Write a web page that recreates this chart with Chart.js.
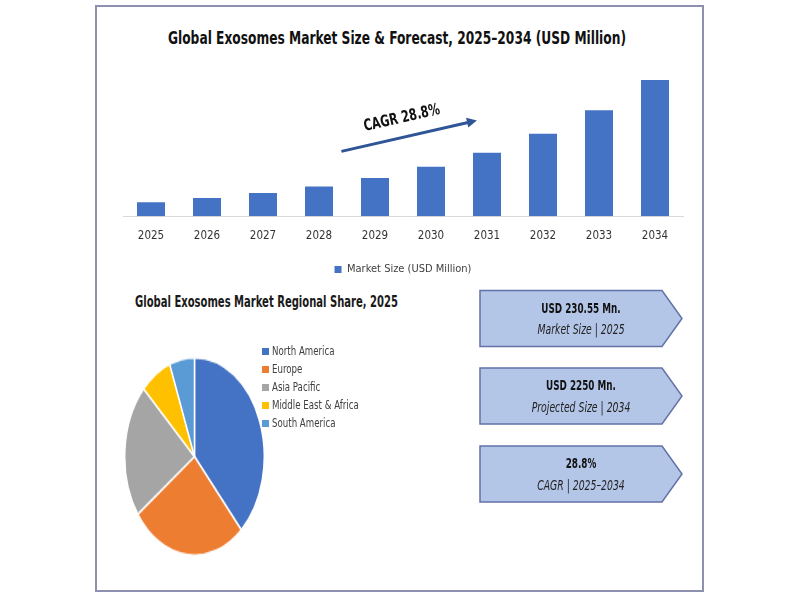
<!DOCTYPE html>
<html><head><meta charset="utf-8">
<script src="https://cdn.jsdelivr.net/npm/chart.js@4.4.1/dist/chart.umd.min.js"></script>
<style>
html,body{margin:0;padding:0;background:#fff;width:800px;height:600px;overflow:hidden;font-family:'Liberation Sans Narrow','DejaVu Sans Condensed',sans-serif;}
#frame{position:absolute;left:95px;top:5px;width:605px;height:583px;border:2px solid #8e90b0;}
#barWrap{position:absolute;left:97px;top:10px;width:606px;height:275px;}
#mainTitle{position:absolute;left:168px;top:27px;font-weight:bold;font-size:18px;line-height:22px;color:#111;white-space:nowrap;transform-origin:0 50%;}
#pieWrap{position:absolute;left:124px;top:386px;width:141px;height:141px;transform:scaleY(1.418);transform-origin:50% 50%;}
#pieTitle{position:absolute;left:135px;top:292px;font-weight:bold;font-size:16px;line-height:20px;color:#1a1a1a;white-space:nowrap;transform-origin:0 50%;}
#pieLegend{position:absolute;left:262px;top:342px;font-size:12px;color:#404040;}
#pieLegend div{height:18px;line-height:18px;white-space:nowrap;}
#pieLegend span.sw{display:inline-block;width:7px;height:7px;margin-right:3px;vertical-align:0px;}
#pieLegend span.tx{display:inline-block;transform:scaleX(0.8);transform-origin:0 50%;}
#kpi{position:absolute;left:0;top:0;}
</style>
</head><body>
<div id="frame"></div>
<div id="mainTitle"></div>
<div id="barWrap"><canvas id="bar" width="606" height="275"></canvas></div>
<div id="pieTitle"></div>
<div id="pieWrap"><canvas id="pie" width="141" height="141"></canvas></div>
<div id="pieLegend"></div>
<svg id="kpi" width="800" height="600" xmlns="http://www.w3.org/2000/svg"></svg>
<script>
// ---- data ----
const years = ['2025','2026','2027','2028','2029','2030','2031','2032','2033','2034'];
const marketSize = [230.55, 300, 383, 489, 633, 817, 1050, 1361, 1750, 2250];
const seriesLabel = 'Market Size (USD Million)';
const chartTitle = 'Global Exosomes Market Size & Forecast, 2025–2034 (USD Million)';
const pieTitle = 'Global Exosomes Market Regional Share, 2025';
const regions = ['North America','Europe','Asia Pacific','Middle East & Africa','South America'];
const regionShare = [38.3, 26.8, 21.9, 7.2, 5.8];
const regionColors = ['#4472C4','#ED7D31','#A5A5A5','#FFC000','#5B9BD5'];
const kpiValues = ['USD 230.55 Mn.','USD 2250 Mn.','28.8%'];
const kpiLabels = ['Market Size | 2025','Projected Size | 2034','CAGR | 2025–2034'];
const cagrLabel = 'CAGR 28.8%';
// annotation arrow in data units [category index, value]
const cagrFrom = [3.4, 1072];
const cagrTo = [5.82, 1583];
const cagrText = [4.48, 1617];

const FONT = "'Liberation Sans Narrow','DejaVu Sans Condensed',sans-serif";

function fitWidth(el, w) {
  const cur = el.getBoundingClientRect().width;
  el.style.transform = 'scaleX(' + (w / cur) + ')';
}
const mt = document.getElementById('mainTitle');
mt.textContent = chartTitle; fitWidth(mt, 458);
const pt = document.getElementById('pieTitle');
pt.textContent = pieTitle; fitWidth(pt, 263);

const cagrPlugin = {
  id: 'cagr',
  afterDatasetsDraw(chart) {
    const {ctx, scales: {x, y}} = chart;
    const x1 = x.getPixelForValue(cagrFrom[0]), y1 = y.getPixelForValue(cagrFrom[1]);
    const x2 = x.getPixelForValue(cagrTo[0]), y2 = y.getPixelForValue(cagrTo[1]);
    const ang = Math.atan2(y2 - y1, x2 - x1);
    ctx.save();
    ctx.strokeStyle = '#2F5597';
    ctx.fillStyle = '#2F5597';
    ctx.lineWidth = 3;
    ctx.beginPath();
    ctx.moveTo(x1, y1);
    ctx.lineTo(x2 - 8 * Math.cos(ang), y2 - 8 * Math.sin(ang));
    ctx.stroke();
    ctx.beginPath();
    ctx.moveTo(x2, y2);
    ctx.lineTo(x2 - 10 * Math.cos(ang) + 5 * Math.sin(ang), y2 - 10 * Math.sin(ang) - 5 * Math.cos(ang));
    ctx.lineTo(x2 - 10 * Math.cos(ang) - 5 * Math.sin(ang), y2 - 10 * Math.sin(ang) + 5 * Math.cos(ang));
    ctx.closePath();
    ctx.fill();
    const tx = x.getPixelForValue(cagrText[0]), ty = y.getPixelForValue(cagrText[1]);
    ctx.translate(tx, ty);
    ctx.rotate(ang);
    ctx.scale(0.78, 1);
    ctx.fillStyle = '#111';
    ctx.font = 'bold 16px ' + FONT;
    ctx.textAlign = 'center';
    ctx.textBaseline = 'middle';
    ctx.fillText(cagrLabel, 0, 0);
    ctx.restore();
  }
};

new Chart(document.getElementById('bar'), {
  type: 'bar',
  data: {
    labels: years,
    datasets: [{
      label: seriesLabel,
      data: marketSize,
      backgroundColor: '#4472C4',
      borderWidth: 0,
      categoryPercentage: 1,
      barPercentage: 0.5
    }]
  },
  options: {
    responsive: false,
    animation: false,
    layout: {padding: {left: 26, right: 20, top: 61, bottom: 0}},
    scales: {
      x: {
        grid: {display: false, drawTicks: false},
        border: {display: true, color: '#d9d9d9', width: 1},
        ticks: {color: '#333333', font: {family: FONT, size: 11.5}, padding: 13}
      },
      y: {display: false, min: 0, max: 2400}
    },
    plugins: {
      title: {display: false},
      legend: {
        position: 'bottom',
        labels: {
          color: '#404040', font: {family: FONT, size: 11},
          boxWidth: 7, boxHeight: 7, padding: 8
        }
      },
      tooltip: {enabled: false}
    }
  },
  plugins: [cagrPlugin]
});

new Chart(document.getElementById('pie'), {
  type: 'pie',
  data: {
    labels: regions,
    datasets: [{
      data: regionShare,
      backgroundColor: regionColors,
      borderColor: '#ffffff',
      borderWidth: 1.5
    }]
  },
  options: {
    responsive: false,
    animation: false,
    layout: {padding: 0},
    plugins: {legend: {display: false}, tooltip: {enabled: false}}
  }
});

// pie legend (HTML text)
const lg = document.getElementById('pieLegend');
regions.forEach((r, i) => {
  const d = document.createElement('div');
  const s = document.createElement('span');
  s.className = 'sw';
  s.style.background = regionColors[i];
  d.appendChild(s);
  const t = document.createElement('span');
  t.className = 'tx';
  t.textContent = r;
  d.appendChild(t);
  lg.appendChild(d);
});

// KPI arrow boxes
const svg = document.getElementById('kpi');
const NS = 'http://www.w3.org/2000/svg';
const boxTops = [290.5, 368, 446];
const boxH = 56;
const CX = 581;
kpiValues.forEach((v, i) => {
  const t = boxTops[i], b = t + boxH, m = t + boxH / 2;
  const p = document.createElementNS(NS, 'polygon');
  p.setAttribute('points', `480,${t} 662,${t} 682,${m} 662,${b} 480,${b}`);
  p.setAttribute('fill', '#B4C6E8');
  p.setAttribute('stroke', '#6372A6');
  p.setAttribute('stroke-width', '1.5');
  svg.appendChild(p);
  const t1 = document.createElementNS(NS, 'text');
  t1.setAttribute('x', CX); t1.setAttribute('y', t + 22.5);
  t1.setAttribute('text-anchor', 'middle');
  t1.setAttribute('font-family', FONT);
  t1.setAttribute('font-weight', 'bold');
  t1.setAttribute('font-size', '14');
  t1.setAttribute('fill', '#111');
  t1.setAttribute('transform', `translate(${CX},0) scale(0.7,1) translate(${-CX},0)`);
  t1.textContent = v;
  svg.appendChild(t1);
  const t2 = document.createElementNS(NS, 'text');
  t2.setAttribute('x', CX); t2.setAttribute('y', t + 44);
  t2.setAttribute('text-anchor', 'middle');
  t2.setAttribute('font-family', FONT);
  t2.setAttribute('font-style', 'italic');
  t2.setAttribute('font-size', '14');
  t2.setAttribute('fill', '#222');
  t2.setAttribute('transform', `translate(${CX},0) scale(0.74,1) translate(${-CX},0)`);
  t2.textContent = kpiLabels[i];
  svg.appendChild(t2);
});
</script>
</body></html>
